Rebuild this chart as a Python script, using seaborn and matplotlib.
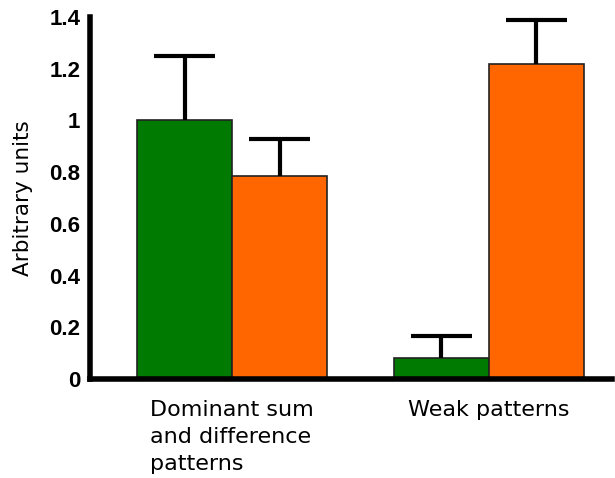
import matplotlib
matplotlib.use("Agg")
import matplotlib.pyplot as plt
from matplotlib import font_manager as fm
import seaborn as sns
import pandas as pd
import numpy as np

categories = ["Dominant sum\nand difference\npatterns", "Weak patterns"]
series = ["A", "B"]
values_a = [1.0, 0.08]
values_b = [0.785, 1.22]
err_a = [0.25, 0.085]
err_b = [0.145, 0.17]
yticks = [0, 0.2, 0.4, 0.6, 0.8, 1, 1.2, 1.4]
ytick_labels = ["0", "0.2", "0.4", "0.6", "0.8", "1", "1.2", "1.4"]
colors = ["#007A00", "#FF6600"]

df = pd.DataFrame({
    "cat": categories * 2,
    "series": [series[0]] * 2 + [series[1]] * 2,
    "val": values_a + values_b,
})
errs = err_a + err_b

tick_fp = fm.FontProperties(family="Liberation Sans", weight="bold", size=16)

sns.set_style("white")
plt.rcParams["text.color"] = "black"
fig = plt.figure(figsize=(6.15, 4.78), dpi=100)
ax = fig.add_axes([90/615, 1 - 379/478, (612-90)/615, (379-17)/478])

sns.barplot(data=df, x="cat", y="val", hue="series", order=categories,
            hue_order=series, palette=colors, width=0.74, dodge=True,
            edgecolor="#222222", linewidth=1.2, saturation=1, legend=False, ax=ax)

# error bars (upper only), positioned from the bar patches
cap_half = 0.12
for p, e in zip(ax.patches, errs):
    cx = p.get_x() + p.get_width() / 2
    top = p.get_height()
    ax.vlines(cx, top, top + e, colors="black", linewidth=3, zorder=1)
    ax.hlines(top + e, cx - cap_half, cx + cap_half, colors="black", linewidth=3, zorder=1)

ax.set_ylim(0, 1.4)
ax.set_xlim(-0.553, 1.479)
ax.set_yticks(yticks)
ax.set_yticklabels(ytick_labels, fontproperties=tick_fp, color="black")
ax.tick_params(axis="y", direction="in", length=4, width=3, pad=7, colors="black")
ax.tick_params(axis="x", length=0, pad=15)
for lab in ax.get_xticklabels():
    lab.set_fontfamily("DejaVu Sans")
    lab.set_fontsize(16)
    lab.set_color("black")
    lab.set_multialignment("left")
    lab.set_verticalalignment("top")
    lab.set_linespacing(1.45)

ax.set_xlabel("")
ax.set_ylabel("Arbitrary units", fontfamily="DejaVu Sans", fontsize=15.5, labelpad=12,
              color="black")

for s in ["top", "right"]:
    ax.spines[s].set_visible(False)
for s in ["left", "bottom"]:
    ax.spines[s].set_linewidth(4)
    ax.spines[s].set_color("black")

fig.savefig("out.png", dpi=100)
